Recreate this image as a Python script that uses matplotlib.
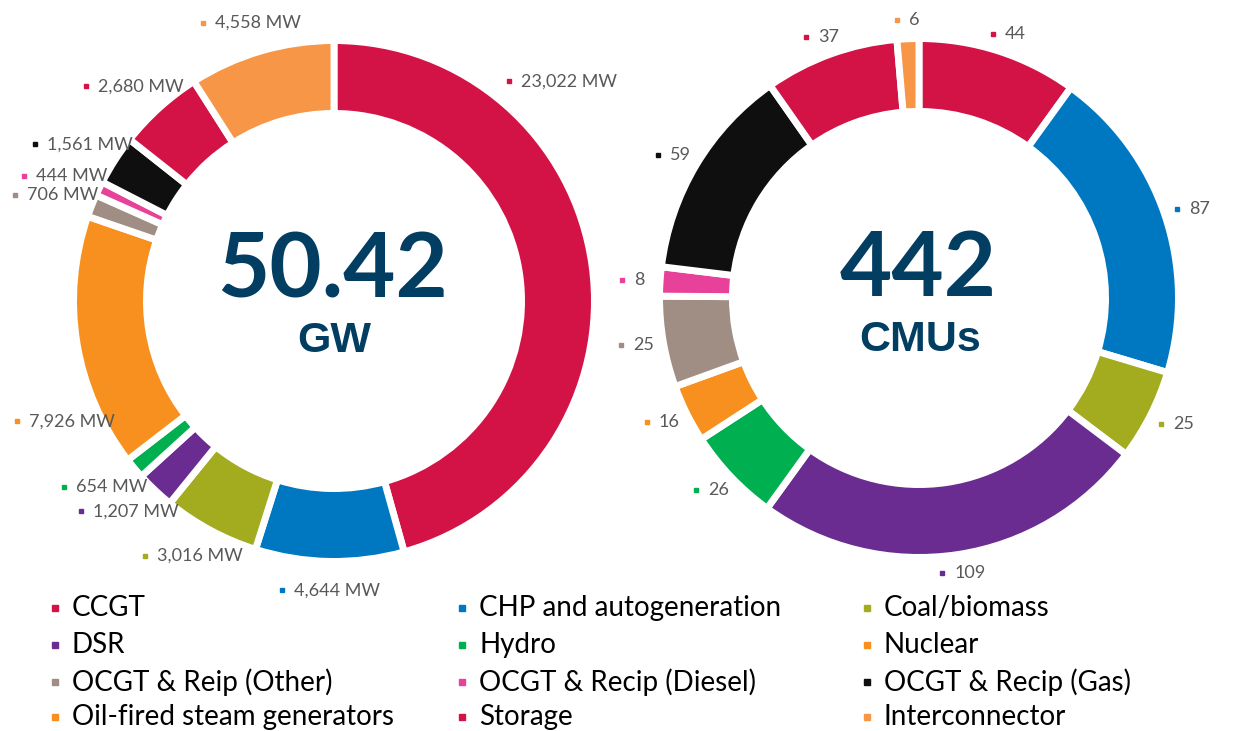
import numpy as np
import matplotlib
matplotlib.use('Agg')
import matplotlib.pyplot as plt

# data
categories = ['CCGT', 'CHP and autogeneration', 'Coal/biomass', 'DSR', 'Hydro', 'Nuclear',
              'OCGT & Reip (Other)', 'OCGT & Recip (Diesel)', 'OCGT & Recip (Gas)',
              'Oil-fired steam generators', 'Storage', 'Interconnector']
capacity_mw = [23022, 4644, 3016, 1207, 654, 7926, 706, 444, 1561, 0, 2680, 4558]
cmu_count = [44, 87, 25, 109, 26, 16, 25, 8, 59, 0, 37, 6]
colors = ['#D31245', '#0078C1', '#A3AB1F', '#6A2C91', '#00B050', '#F7901E',
          '#A08E84', '#E8419A', '#0F0F0F', '#F7901E', '#D31245', '#F79646']

W, H = 1234, 731
fig = plt.figure(figsize=(W / 100, H / 100), dpi=100)
ax = fig.add_axes([0, 0, 1, 1])

navy = '#023D62'
grey = '#595959'
edge_lw = 5
pad = edge_lw / 72 * 100 / 2  # white edge eats into the ring


def donut(vals, cx, cy, r, ring, fmt, lab_r, overrides):
    vals = np.array(vals, dtype=float)
    keep = vals > 0
    v = vals[keep]
    cols = [c for c, k in zip(colors, keep) if k]
    names = [n for n, k in zip(categories, keep) if k]
    ax.pie(v, colors=cols, startangle=90, counterclock=False, radius=r + pad,
           center=(cx, cy), frame=True,
           wedgeprops=dict(width=ring + 2 * pad, edgecolor='white', linewidth=edge_lw))
    tot = v.sum()
    cum = np.cumsum(v) - v / 2
    renderer = fig.canvas.get_renderer()
    for val, c, name, cm in zip(v, cols, names, cum):
        ang = 90 - cm / tot * 360
        bx = cx + lab_r * np.cos(np.radians(ang))
        by = cy + 0.965 * lab_r * np.sin(np.radians(ang))
        if name in overrides:
            ang, rr = overrides[name]
            bx = cx + rr * np.cos(np.radians(ang))
            by = cy + rr * np.sin(np.radians(ang))
        t = ax.text(bx + 8, by, fmt(val), ha='center', va='center', color=grey,
                    fontsize=13, family='Lato')
        bb = t.get_window_extent(renderer)
        ax.plot(bx + 8 - bb.width / 2 - 12, by, marker='s', ms=3, color=c, ls='none')


donut(capacity_mw, 334, H - 301, 257, 66, lambda x: f'{int(x):,} MW', 300,
      {'CCGT': (44, 316), 'Nuclear': (204, 296)})
donut(cmu_count, 919, H - 298, 256, 66, lambda x: f'{int(x)}', 288, {})

# centre totals
ax.text(332, H - 272, f'{sum(capacity_mw) / 1000:.2f}', ha='center', va='center',
        fontsize=65, fontweight='bold', color=navy, family='Lato')
ax.text(334, H - 341, 'GW', ha='center', va='center', fontsize=31,
        fontweight='bold', color=navy, family='Liberation Sans')
ax.text(918, H - 270, f'{sum(cmu_count)}', ha='center', va='center',
        fontsize=65, fontweight='bold', color=navy, family='Lato')
ax.text(920, H - 340, 'CMUs', ha='center', va='center', fontsize=31,
        fontweight='bold', color=navy, family='Liberation Sans')

# legend, row by row
col_x = [55, 462, 867]
row_y = [608, 645, 682, 717]
for i, (name, c) in enumerate(zip(categories, colors)):
    x = col_x[i % 3]
    y = H - row_y[i // 3]
    ax.plot(x, y, marker='s', ms=5, color=c, ls='none')
    ax.text(x + 17, y, name, ha='left', va='center', fontsize=20,
            color='black', family='Lato')

ax.set_xlim(0, W)
ax.set_ylim(0, H)
ax.set_aspect('equal')
ax.axis('off')

plt.savefig('out.png', dpi=100)
